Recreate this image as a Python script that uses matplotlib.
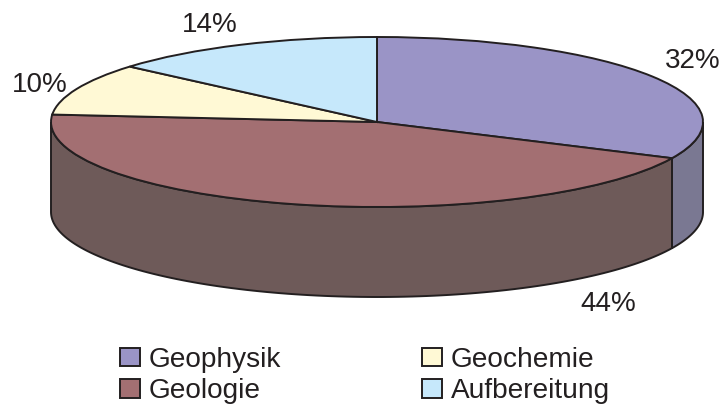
#!/usr/bin/env python3
"""3D-looking pie of shares per field, built from a squashed pie plus side walls."""

import matplotlib.pyplot as plt
from matplotlib.patches import Patch, Polygon
import numpy as np

plt.rcParams["font.family"] = ["Liberation Sans", "DejaVu Sans"]

categories = ["Geophysik", "Geologie", "Geochemie", "Aufbereitung"]
shares = [32, 44.4, 9.9, 13.7]
share_labels = ["32%", "44%", "10%", "14%"]

top_colors = ["#9A94C6", "#A36F72", "#FFF9D5", "#C6E8FB"]
wall_colors = ["#7A7892", "#6E5A59", "#8F8C78", "#8A9CA8"]
INK = "#231F20"

# ellipse geometry in pixels of the 723x405 picture
W, H = 723, 405
CX, CY, RX, RY, DEPTH = 377, 122, 326, 85, 90
LABEL_POS = [(693, 61), (608, 304), (40, 85), (210, 25)]


def wall_polygon(t0, t1, color):
    # t is clockwise from the top of the ellipse, in radians
    t = np.linspace(t0, t1, 120)
    x, y = np.sin(t), np.cos(t)
    d = DEPTH / RY
    xy = np.r_[np.c_[x, y], np.c_[x[::-1], y[::-1] - d]]
    return Polygon(xy, closed=True, facecolor=color, edgecolor=INK, linewidth=1.4, zorder=1)


fig = plt.figure(figsize=(W / 100, H / 100), dpi=100)
ax = fig.add_axes([0, 0, 1, 1])

edges = np.cumsum([0] + shares) / sum(shares) * 2 * np.pi
for i in range(len(shares)):
    # only the front half of the rim is visible
    t0, t1 = max(edges[i], np.pi / 2), min(edges[i + 1], 3 * np.pi / 2)
    if t0 < t1:
        ax.add_patch(wall_polygon(t0, t1, wall_colors[i]))

ax.pie(
    shares,
    colors=top_colors,
    startangle=90,
    counterclock=False,
    radius=1,
    frame=True,
    wedgeprops={"edgecolor": INK, "linewidth": 1.4, "zorder": 2},
)
ax.set_aspect("auto")
ax.set_xlim((0 - CX) / RX, (W - CX) / RX)
ax.set_ylim((CY - H) / RY, (CY - 0) / RY)
ax.axis("off")

for label, (px, py) in zip(share_labels, LABEL_POS):
    fig.text(px / W, 1 - py / H, label, fontsize=20, color=INK, ha="center", va="center")

handles = [Patch(facecolor=c, edgecolor=INK, linewidth=1.4) for c in top_colors]
leg = fig.legend(
    handles,
    categories,
    ncol=2,
    loc="upper left",
    bbox_to_anchor=(108.9 / W, 1 - 335.5 / H),
    borderaxespad=0,
    frameon=False,
    fontsize=20.2,
    handlelength=0.71,
    handleheight=0.64,
    handletextpad=0.32,
    labelspacing=0.2,
    columnspacing=5.0,
    labelcolor=INK,
)

fig.savefig("out.png", dpi=100)
plt.close(fig)
